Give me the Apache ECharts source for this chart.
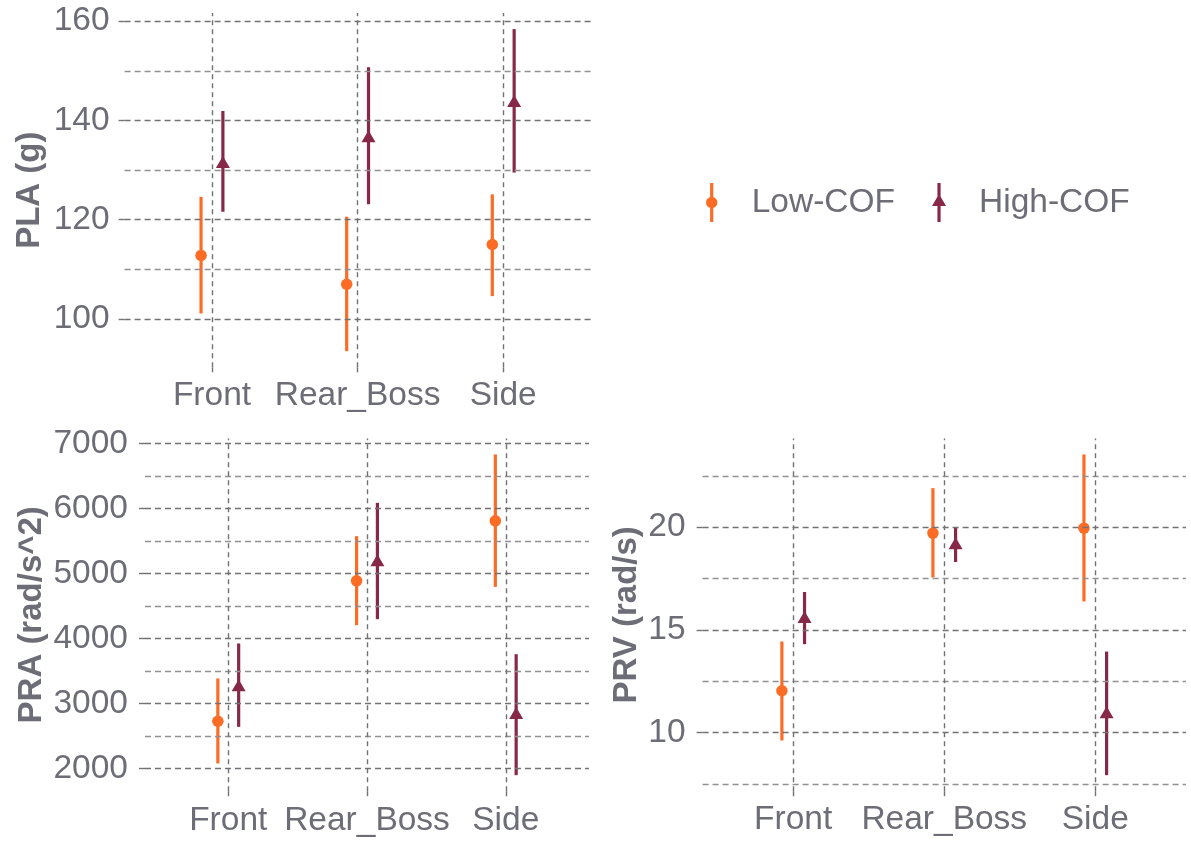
<!DOCTYPE html>
<html>
<head>
<meta charset="utf-8">
<title>PLA / PRA / PRV by impact location</title>
<script src="https://cdn.jsdelivr.net/npm/echarts@6/dist/echarts.min.js"></script>
<style>
  html, body { margin: 0; padding: 0; background: #fff; }
  #chart { width: 1191px; height: 841px; }
</style>
</head>
<body>
<div id="chart"></div>
<script>
var categories = ['Front', 'Rear_Boss', 'Side'];
var catIndex = [0, 1, 2];

// PLA (g)
var plaLowMean = [112.8, 107.0, 115.0];
var plaLowMin = [101.1, 93.5, 104.6];
var plaLowMax = [124.6, 120.6, 125.1];
var plaHighMean = [131.6, 136.8, 143.9];
var plaHighMin = [121.6, 123.1, 129.5];
var plaHighMax = [141.9, 150.7, 158.4];

// PRA (rad/s^2)
var praLowMean = [2727, 4886, 5809];
var praLowMin = [2077, 4205, 4794];
var praLowMax = [3385, 5574, 6831];
var praHighMean = [3282, 5205, 2855];
var praHighMin = [2640, 4297, 1897];
var praHighMax = [3923, 6086, 3758];

// PRV (rad/s)
var prvLowMean = [12.03, 19.71, 19.95];
var prvLowMin = [9.61, 17.55, 16.38];
var prvLowMax = [14.43, 21.9, 23.54];
var prvHighMean = [15.62, 19.22, 10.99];
var prvHighMin = [14.30, 18.30, 7.92];
var prvHighMax = [16.84, 20.0, 13.94];

// tick labels
var plaTicks = [100, 120, 140, 160];
var plaMinor = [110, 130, 150];
var praTicks = [2000, 3000, 4000, 5000, 6000, 7000];
var praMinor = [2500, 3500, 4500, 5500, 6500];
var prvTicks = [10, 15, 20];
var prvMinor = [7.5, 12.5, 17.5, 22.5];

var lowColor = '#FC6C25';
var highColor = '#882849';
var textColor = '#6D6D77';
var majorColor = '#717176';
var minorColor = '#909095';
var font = '"Liberation Sans", Arial, sans-serif';
var dodge = 0.075;

// ggplot style 5% expansion of the data range
function expand(lists) {
  var all = [].concat.apply([], lists);
  var lo = Math.min.apply(null, all), hi = Math.max.apply(null, all);
  var pad = (hi - lo) * 0.05;
  return [lo - pad, hi + pad];
}

function barData(mean, lo, hi, shift) {
  return catIndex.map(function (c, i) { return [c + shift, mean[i], lo[i], hi[i]]; });
}
function pointData(mean, shift) {
  return catIndex.map(function (c, i) { return [c + shift, mean[i]]; });
}

function renderBar(params, api) {
  var x = api.value(0);
  var a = api.coord([x, api.value(2)]);
  var b = api.coord([x, api.value(3)]);
  return {
    type: 'line',
    shape: { x1: a[0], y1: a[1], x2: b[0], y2: b[1] },
    style: { stroke: api.visual('color'), lineWidth: 3.2 }
  };
}

function xAxisFor(g, margin) {
  return {
    type: 'value', gridIndex: g, min: -0.6, max: 2.6,
    axisLine: { show: false, onZero: false },
    splitLine: { show: false },
    axisTick: { show: true, length: 7, customValues: catIndex,
      lineStyle: { color: majorColor, type: [5, 4], width: 1.4 } },
    axisLabel: { customValues: catIndex, margin: margin, fontSize: 33.5,
      color: textColor, fontFamily: font,
      formatter: function (v) { return categories[Math.round(v)]; } }
  };
}

function yAxisFor(g, range, ticks, name, gap, margin) {
  return {
    type: 'value', gridIndex: g, min: range[0], max: range[1],
    name: name, nameLocation: 'middle', nameGap: gap,
    nameTextStyle: { fontSize: 33, fontWeight: 'bold', color: textColor, fontFamily: font },
    axisLine: { show: false, onZero: false },
    splitLine: { show: false },
    axisTick: { show: true, length: 8, customValues: ticks,
      lineStyle: { color: majorColor, type: [6, 4], width: 1.4 } },
    axisLabel: { customValues: ticks, margin: margin, fontSize: 33.5,
      color: textColor, fontFamily: font,
      formatter: function (v) { return String(v); } }
  };
}

function gridSeries(g, ticks, minor) {
  var lines = [];
  minor.forEach(function (v) {
    lines.push({ yAxis: v, lineStyle: { color: minorColor, type: [6, 4], width: 1.3 } });
  });
  ticks.forEach(function (v) {
    lines.push({ yAxis: v, lineStyle: { color: majorColor, type: [6, 4], width: 1.4 } });
  });
  catIndex.forEach(function (c) {
    lines.push({ xAxis: c, lineStyle: { color: majorColor, type: [5, 4], width: 1.4 } });
  });
  return {
    type: 'line', xAxisIndex: g, yAxisIndex: g, data: [], silent: true, z: 1,
    markLine: { symbol: 'none', silent: true, animation: false, label: { show: false }, data: lines }
  };
}

function panelSeries(g, lowM, lowLo, lowHi, highM, highLo, highHi) {
  return [
    { name: 'Low-COF', type: 'custom', xAxisIndex: g, yAxisIndex: g, z: 3,
      itemStyle: { color: lowColor }, renderItem: renderBar,
      data: barData(lowM, lowLo, lowHi, -dodge) },
    { name: 'High-COF', type: 'custom', xAxisIndex: g, yAxisIndex: g, z: 3,
      itemStyle: { color: highColor }, renderItem: renderBar,
      data: barData(highM, highLo, highHi, dodge) },
    { name: 'Low-COF', type: 'scatter', xAxisIndex: g, yAxisIndex: g, z: 4,
      symbol: 'circle', symbolSize: 11.5, itemStyle: { color: lowColor, opacity: 1 },
      data: pointData(lowM, -dodge) },
    { name: 'High-COF', type: 'scatter', xAxisIndex: g, yAxisIndex: g, z: 4,
      symbol: 'triangle', symbolSize: [14, 12], itemStyle: { color: highColor, opacity: 1 },
      data: pointData(highM, dodge) }
  ];
}

var plaRange = expand([plaLowMin, plaLowMax, plaHighMin, plaHighMax]);
var praRange = expand([praLowMin, praLowMax, praHighMin, praHighMax]);
var prvRange = expand([prvLowMin, prvLowMax, prvHighMin, prvHighMax]);

var lowIcon = 'path://M6.4,0h3.2v39h-3.2z M2.3,19.5a5.7,5.7 0 1,1 11.4,0a5.7,5.7 0 1,1 -11.4,0z';
var highIcon = 'path://M5.4,0h3.2v39h-3.2z M7,11L14,23L0,23z';

var chart = echarts.init(document.getElementById('chart'));
chart.setOption({
  animation: false,
  backgroundColor: '#fff',
  legend: {
    left: 701, top: 178, itemWidth: 14, itemHeight: 39, itemGap: 37,
    selectedMode: false,
    textStyle: { fontSize: 33.5, color: textColor, fontFamily: font, padding: [0, 0, 0, 28] },
    data: [{ name: 'Low-COF', icon: lowIcon }, { name: 'High-COF', icon: highIcon }]
  },
  grid: [
    { left: 124.6, top: 13, width: 466, height: 354.3 },
    { left: 145, top: 438.4, width: 444, height: 352.8 },
    { left: 702.6, top: 438.4, width: 483.3, height: 352.8 }
  ],
  xAxis: [xAxisFor(0, 11), xAxisFor(1, 13), xAxisFor(2, 12)],
  yAxis: [
    yAxisFor(0, plaRange, plaTicks, 'PLA (g)', 78, 15),
    yAxisFor(1, praRange, praTicks, 'PRA (rad/s^2)', 97, 17),
    yAxisFor(2, prvRange, prvTicks, 'PRV (rad/s)', 59, 17)
  ],
  series: [gridSeries(0, plaTicks, plaMinor), gridSeries(1, praTicks, praMinor), gridSeries(2, prvTicks, prvMinor)]
    .concat(panelSeries(0, plaLowMean, plaLowMin, plaLowMax, plaHighMean, plaHighMin, plaHighMax))
    .concat(panelSeries(1, praLowMean, praLowMin, praLowMax, praHighMean, praHighMin, praHighMax))
    .concat(panelSeries(2, prvLowMean, prvLowMin, prvLowMax, prvHighMean, prvHighMin, prvHighMax))
});
</script>
</body>
</html>
